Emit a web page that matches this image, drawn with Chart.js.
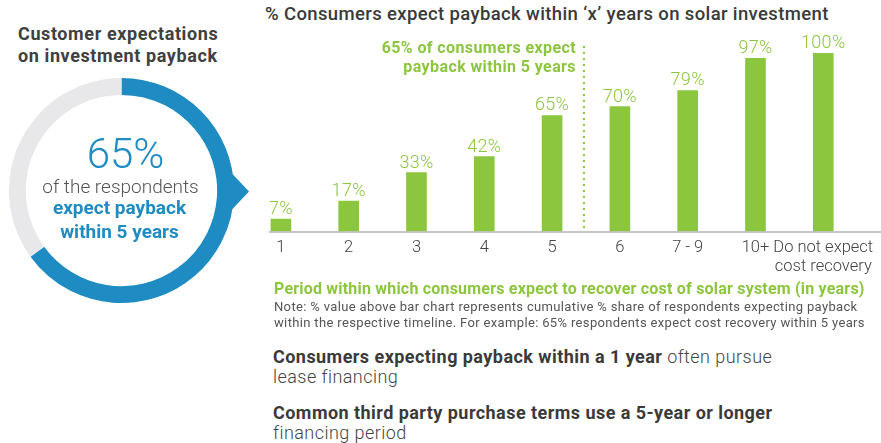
<!DOCTYPE html>
<html>
<head>
<meta charset="utf-8">
<script src="https://cdn.jsdelivr.net/npm/chart.js@4"></script>
<style>
  body { margin: 0; width: 881px; height: 443px; background: #fff; position: relative; overflow: hidden; font-family: Roboto, "Liberation Sans", sans-serif; }
  .abs { position: absolute; white-space: nowrap; }
  #leftTitle { left: 18px; top: 23px; font-size: 18px; font-weight: 700; color: #404040; line-height: 22px; letter-spacing: 0.6px; }
  #rightTitle { left: 265px; top: 3px; font-size: 18.5px; font-weight: 500; color: #3a3a3a; letter-spacing: 0.37px; }
  #donut { position: absolute; left: 0; top: 60px; }
  #bars { position: absolute; left: 240px; top: 30px; }
  #period { left: 274px; top: 279px; font-size: 16px; font-weight: 700; color: #8cc63f; letter-spacing: 0.2px; }
  #note { left: 274px; top: 299px; font-size: 13px; color: #555; line-height: 16px; font-weight: 400; letter-spacing: 0.35px; }
  .stmt { left: 273px; font-size: 18px; color: #444; line-height: 19.5px; font-weight: 300; letter-spacing: 0.45px; }
  .stmt b { font-weight: 700; color: #3a3a3a; }
</style>
</head>
<body>
<div id="leftTitle" class="abs">Customer expectations<br>on investment payback</div>
<div id="rightTitle" class="abs">% Consumers expect payback within ‘x’ years on solar investment</div>
<canvas id="donut" width="260" height="260"></canvas>
<canvas id="bars" width="641" height="250"></canvas>
<div id="period" class="abs">Period within which consumers expect to recover cost of solar system (in years)</div>
<div id="note" class="abs">Note: % value above bar chart represents cumulative % share of respondents expecting payback<br>within the respective timeline. For example: 65% respondents expect cost recovery within 5 years</div>
<div class="abs stmt" style="top:347px"><b>Consumers expecting payback within a 1 year</b> often pursue<br>lease financing</div>
<div class="abs stmt" style="top:403px"><b>Common third party purchase terms use a 5-year or longer</b><br>financing period</div>
<script>
const periods = ['1', '2', '3', '4', '5', '6', '7 - 9', '10+', ['Do not expect', 'cost recovery']];
const cumulativeShare = [7, 17, 33, 42, 65, 70, 79, 97, 100];
const paybackSplit = [65, 35];
const paybackLabels = ['Within 5 years', 'Longer'];

const BLUE = '#1e8bc3';
const GREEN = '#8cc63f';
const FONT = 'Roboto, "Liberation Sans", sans-serif';

// ring with arrow and centre text
const ringExtras = {
  id: 'ringExtras',
  afterDraw(chart) {
    const arc = chart.getDatasetMeta(0).data[0];
    const cx = arc.x, cy = arc.y, r = arc.outerRadius;
    const ctx = chart.ctx;
    ctx.save();
    ctx.fillStyle = BLUE;
    ctx.beginPath();
    ctx.moveTo(cx + r - 2, cy - 17);
    ctx.lineTo(cx + r + 15, cy + 1);
    ctx.lineTo(cx + r - 2, cy + 19);
    ctx.closePath();
    ctx.fill();

    ctx.textAlign = 'center';
    ctx.textBaseline = 'alphabetic';
    ctx.fillStyle = BLUE;
    ctx.font = '300 42px ' + FONT;
    ctx.fillText(paybackSplit[0] + '%', cx + 4, cy - 23);
    ctx.fillStyle = '#555';
    ctx.font = '300 19px ' + FONT;
    ctx.fillText('of the respondents', cx - 1, cy + 2);
    ctx.fillStyle = BLUE;
    ctx.font = '700 19px ' + FONT;
    ctx.fillText('expect payback', cx - 2, cy + 23);
    ctx.fillText('within 5 years', cx - 2, cy + 47);
    ctx.restore();
  }
};

new Chart(document.getElementById('donut').getContext('2d'), {
  type: 'doughnut',
  data: {
    labels: paybackLabels,
    datasets: [{
      data: paybackSplit,
      backgroundColor: [BLUE, '#e8e8ea'],
      borderWidth: 0
    }]
  },
  options: {
    responsive: false,
    animation: false,
    cutout: '85%',
    layout: { padding: { left: 9, top: 18, right: 26, bottom: 17 } },
    plugins: { legend: { display: false }, tooltip: { enabled: false } }
  },
  plugins: [ringExtras]
});

// value labels, baseline, divider and note
const barExtras = {
  id: 'barExtras',
  afterDatasetsDraw(chart) {
    const ctx = chart.ctx;
    const area = chart.chartArea;
    const x = chart.scales.x;
    const bars = chart.getDatasetMeta(0).data;
    ctx.save();

    ctx.strokeStyle = '#b5b5b5';
    ctx.lineWidth = 1.5;
    ctx.beginPath();
    ctx.moveTo(bars[0].x - 12, area.bottom + 0.5);
    ctx.lineTo(chart.width, area.bottom + 0.5);
    ctx.stroke();

    ctx.fillStyle = GREEN;
    ctx.font = '300 18px ' + FONT;
    ctx.letterSpacing = '0.3px';
    ctx.textAlign = 'center';
    ctx.textBaseline = 'alphabetic';
    bars.forEach((b, i) => {
      ctx.fillText(cumulativeShare[i] + '%', b.x, b.y - 5);
    });

    const divX = (x.getPixelForValue(4) + x.getPixelForValue(5)) / 2 - 2;
    ctx.strokeStyle = GREEN;
    ctx.lineWidth = 2;
    ctx.setLineDash([2, 4]);
    ctx.beginPath();
    ctx.moveTo(divX, 16);
    ctx.lineTo(divX, area.bottom);
    ctx.stroke();

    ctx.font = '700 16px ' + FONT;
    ctx.letterSpacing = '0.4px';
    ctx.textAlign = 'right';
    ctx.fillText('65% of consumers expect', divX - 8, 23);
    ctx.fillText('payback within 5 years', divX - 8, 42);
    ctx.restore();
  }
};

new Chart(document.getElementById('bars').getContext('2d'), {
  type: 'bar',
  data: {
    labels: periods,
    datasets: [{
      data: cumulativeShare,
      backgroundColor: GREEN,
      barThickness: 20
    }]
  },
  options: {
    responsive: false,
    animation: false,
    layout: { padding: { left: 7, right: 15, top: 23, bottom: 0 } },
    scales: {
      x: {
        grid: { display: false, drawTicks: false },
        border: { display: false },
        ticks: {
          color: '#444', padding: 7, autoSkip: false, maxRotation: 0, minRotation: 0,
          font: { family: FONT, size: 16.5, weight: '300', lineHeight: 1.15 }
        },
        afterFit(s) { s.height = 48.5; }
      },
      y: { display: false, min: 0, max: 100 }
    },
    plugins: { legend: { display: false }, tooltip: { enabled: false } }
  },
  plugins: [barExtras]
});
</script>
</body>
</html>
